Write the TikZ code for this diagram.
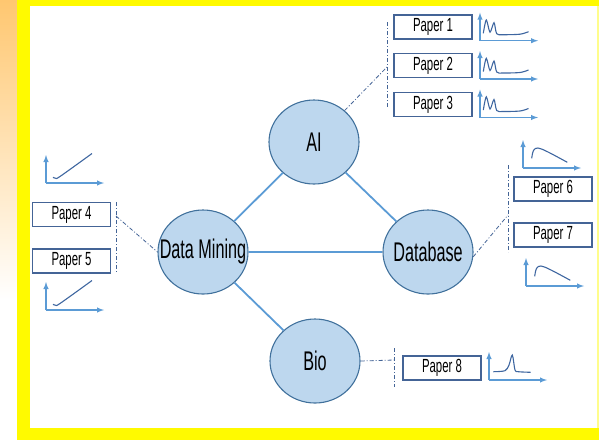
\documentclass[tikz,border=0pt]{standalone}
\usepackage{fontspec}
\setmainfont[FakeStretch=0.6]{Liberation Sans}
\usepackage{tikz}
\usetikzlibrary{shapes.geometric,positioning}
\definecolor{achsblau}{RGB}{91,155,213}
\definecolor{kurvblau}{RGB}{62,102,160}
\definecolor{kreisfill}{RGB}{189,215,238}
\definecolor{kreisrand}{RGB}{65,113,156}
\definecolor{kastenrand}{RGB}{68,100,150}
\definecolor{rahmengelb}{RGB}{255,250,0}
\definecolor{balkenorange}{RGB}{255,199,112}

\tikzset{
  thema/.style={ellipse, draw=kreisrand, line width=1.1pt, fill=kreisfill,
    minimum width=90pt, minimum height=84pt, inner sep=0pt,
    font=\fontsize{27}{29}\selectfont},
  paper/.style={rectangle, draw=kastenrand, line width=1.2pt, fill=white,
    minimum width=78pt, minimum height=24pt, inner sep=0pt,
    font=\fontsize{19}{21}\selectfont},
  kante/.style={achsblau, line width=1.8pt},
  strich/.style={kastenrand, line width=0.8pt, dash pattern=on 4pt off 2pt on 1pt off 2pt},
  achse/.style={achsblau, line width=1.4pt, -latex},
  kurve/.style={kurvblau, line width=1.1pt},
  % kleine Diagramme
  pics/achsen/.style={code={
    \draw[achse] (0,0) -- (0,-28);
    \draw[achse] (0,0) -- (58,0);
  }},
  pics/doppelspitze/.style={code={
    \pic{achsen};
    \draw[kurve] plot[smooth,tension=0.5] coordinates {(3.3,-7.4) (6.3,-20.7) (10,-8.5) (14,-18) (16.7,-7) (23,-6) (40,-6.5) (48.5,-9)};
  }},
  pics/anstieg/.style={code={
    \pic{achsen};
    \draw[kurve] plot[smooth,tension=0.5] coordinates {(7,-5.7) (9.5,-4.8) (14,-6.5) (46,-29.5)};
  }},
  pics/abfall/.style={code={
    \pic{achsen};
    \draw[kurve] plot[smooth,tension=0.6] coordinates {(8.7,-9.7) (10.5,-17.5) (15,-20) (25,-16) (44.3,-5.7)};
  }},
  pics/spitze/.style={code={
    \pic{achsen};
    \draw[kurve] plot[smooth,tension=0.5] coordinates {(4.3,-8.3) (16,-9.3) (20,-15) (23.3,-25) (26,-10) (29.3,-8.3) (41.7,-7.7)};
  }},
}
% Text ohne Einfluss auf die Ellipsengroesse
\newcommand{\thtext}[1]{\makebox[0pt]{#1}}

\begin{document}
\begin{tikzpicture}[x=1pt, y=-1pt, >=latex]
\useasboundingbox (0,0) rectangle (599,440);

% Rahmen
\shade[top color=balkenorange, bottom color=white] (0,0) rectangle (17,300);
\fill[rahmengelb] (17,0) rectangle (30,440);
\fill[rahmengelb] (17,0) rectangle (599,6);
\fill[rahmengelb] (17,428) rectangle (599,440);
\fill[rahmengelb!45] (597,6) rectangle (599,428);

% Themen
\node[thema] (ai)  at (314,142) {\thtext{AI}};
\node[thema] (dm)  at (203,252) {\thtext{Data Mining}};
\node[thema] (db)  at (428,252) {\thtext{Database}};
\node[thema] (bio) at (315,361) {\thtext{Bio}};

\draw[kante] (ai) -- (dm);
\draw[kante] (ai) -- (db);
\draw[kante] (dm) -- (db);
\draw[kante] (dm) -- (bio);

% Papers zu AI
\foreach \i/\y in {1/27,2/65.5,3/104.5}
  \node[paper] (p\i) at (433,\y) {Paper \i};
\foreach \y in {40.7,79,117.5}
  \pic at (480,\y) {doppelspitze};
\coordinate (k1o) at (387,22);
\coordinate (k1u) at (387,107);
\coordinate (k1)  at (387,67);
\draw[strich] (k1o) -- (k1u);
\draw[strich] (ai) -- (k1);

% Papers zu Data Mining
\node[paper] (p4) at (71.5,214.5) {Paper 4};
\node[paper] (p5) at (71.5,261) {Paper 5};
\pic at (46,183) {anstieg};
\pic at (46,310) {anstieg};
\coordinate (k2o) at (116,202);
\coordinate (k2u) at (116,272);
\coordinate (k2)  at (116,216);
\draw[strich] (k2o) -- (k2u);
\draw[strich] (k2) -- (dm.west);

% Papers zu Database
\node[paper] (p6) at (553,189) {Paper 6};
\node[paper] (p7) at (553,235) {Paper 7};
\pic at (523,168) {abfall};
\pic at (526,286) {abfall};
\coordinate (k3o) at (508,165);
\coordinate (k3u) at (508,252);
\coordinate (k3)  at (508,215);
\draw[strich] (k3o) -- (k3u);
\draw[strich] (db.-6) -- (k3);

% Paper zu Bio
\node[paper] (p8) at (442,368) {Paper 8};
\pic at (489,380) {spitze};
\coordinate (k4o) at (394,348);
\coordinate (k4u) at (394,387);
\coordinate (k4)  at (394,360);
\draw[strich] (k4o) -- (k4u);
\draw[strich] (bio.east) -- (k4);
\end{tikzpicture}
\end{document}
